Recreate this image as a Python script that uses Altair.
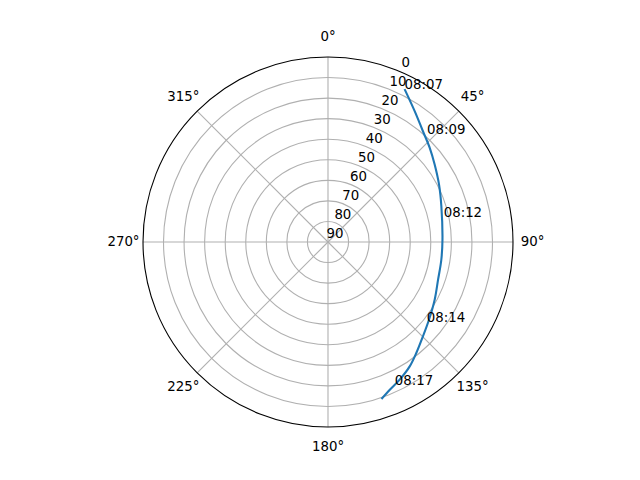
import altair as alt
import pandas as pd

# Satellite pass: azimuth (deg, clockwise from N) and elevation (deg)
curve_az = [26.6, 33.6, 40.7, 47.3, 54.1, 62.7, 72.6, 88.8, 98.9, 108.9, 118.4, 127.6, 134.8, 141.5, 146.7, 152.5, 157.3, 161.2]
curve_el = [6.8, 13.7, 19.1, 22.6, 25.9, 29.2, 32.2, 34.3, 34.2, 33.4, 31.0, 28.0, 24.9, 21.0, 17.6, 14.5, 12.1, 9.3]

label_times = ["08:07", "08:09", "08:12", "08:14", "08:17"]
label_az = [26.6, 42.4, 77.7, 128.9, 154.9]
label_el = [6.8, 18.6, 32.4, 28.3, 13.4]

ring_el = [10, 20, 30, 40, 50, 60, 70, 80]
r_ticks = [0, 10, 20, 30, 40, 50, 60, 70, 80, 90]
theta_ticks = [0, 45, 90, 135, 180, 225, 270, 315]

FONT = "DejaVu Sans"
FS = 13.33
GRID = "#b0b0b0"

xs = alt.Scale(domain=[-90, 90])
ys = alt.Scale(domain=[-90, 90])
rs = alt.Scale(type="linear", domain=[0, 90], range=[0, 185], zero=True)

def xy(base, rexpr, azexpr):
    return base.transform_calculate(
        px=f"({rexpr})*sin(({azexpr})*PI/180)",
        py=f"({rexpr})*cos(({azexpr})*PI/180)",
    )

# Grid rings
rings = alt.Chart(pd.DataFrame({"el": ring_el})).transform_calculate(
    r="90 - datum.el"
).mark_arc(theta=0, theta2=6.2832, fillOpacity=0, stroke=GRID, strokeWidth=1.1).encode(
    radius=alt.Radius("r:Q", scale=rs, stack=None)
)

outer = alt.Chart(pd.DataFrame({"el": [0]})).transform_calculate(
    r="90 - datum.el"
).mark_arc(theta=0, theta2=6.2832, fillOpacity=0, stroke="black", strokeWidth=1.1).encode(
    radius=alt.Radius("r:Q", scale=rs, stack=None)
)

# Spokes
spokes = alt.Chart(pd.DataFrame({"az": theta_ticks})).transform_calculate(
    x0="0", y0="0",
    x1="90*sin(datum.az*PI/180)",
    y1="90*cos(datum.az*PI/180)",
).mark_rule(color=GRID, strokeWidth=1.1).encode(
    x=alt.X("x0:Q", scale=xs, axis=None),
    y=alt.Y("y0:Q", scale=ys, axis=None),
    x2="x1:Q",
    y2="y1:Q",
)

# Pass track
track_df = pd.DataFrame({"i": list(range(len(curve_az))), "az": curve_az, "el": curve_el})
track = xy(alt.Chart(track_df), "90 - datum.el", "datum.az").mark_line(
    color="#1f77b4", strokeWidth=2.1, interpolate="catmull-rom"
).encode(
    x=alt.X("px:Q", scale=xs, axis=None),
    y=alt.Y("py:Q", scale=ys, axis=None),
    order="i:Q",
)

# Radial tick labels (at 22.5 deg)
rlab_df = pd.DataFrame({"el": r_ticks, "lab": [str(v) for v in r_ticks]})
rlabels = xy(alt.Chart(rlab_df), "90 - datum.el", "22.5").mark_text(
    font=FONT, fontSize=FS, color="black", align="center", baseline="middle", dx=7, dy=-8
).encode(
    x=alt.X("px:Q", scale=xs, axis=None),
    y=alt.Y("py:Q", scale=ys, axis=None),
    text="lab:N",
)

# Angular tick labels
tlab_df = pd.DataFrame({"az": theta_ticks, "lab": [f"{v}°" for v in theta_ticks]})
tlabels = xy(alt.Chart(tlab_df), "99.5", "datum.az").mark_text(
    font=FONT, fontSize=FS, color="black", align="center", baseline="middle"
).encode(
    x=alt.X("px:Q", scale=xs, axis=None),
    y=alt.Y("py:Q", scale=ys, axis=None),
    text="lab:N",
)

# Time labels
time_df = pd.DataFrame({"az": label_az, "el": label_el, "lab": label_times})
tt = xy(alt.Chart(time_df), "90 - datum.el", "datum.az").mark_text(
    font=FONT, fontSize=FS, color="black", align="left", baseline="alphabetic"
).encode(
    x=alt.X("px:Q", scale=xs, axis=None),
    y=alt.Y("py:Q", scale=ys, axis=None),
    text="lab:N",
)

chart = alt.layer(rings, spokes, outer, track, rlabels, tlabels, tt).properties(
    width=370, height=370,
    padding={"left": 135, "top": 49, "right": 119, "bottom": 45},
    autosize=alt.AutoSizeParams(type="none"),
    background="white",
).configure_view(stroke=None)

chart.save("out.html", embed_options={"renderer": "svg", "actions": False})
